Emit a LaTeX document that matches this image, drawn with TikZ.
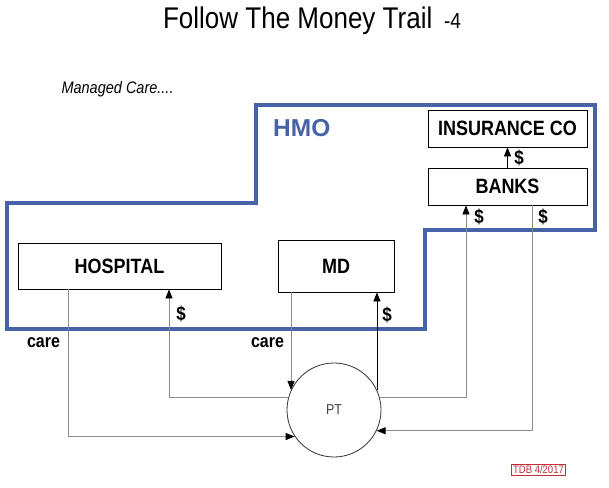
\documentclass[tikz,border=0pt]{standalone}
\usepackage{fontspec}
\setmainfont{Liberation Sans}
\usetikzlibrary{arrows.meta}
\definecolor{hmoblue}{HTML}{4763A8}
\definecolor{flowgray}{HTML}{8C8C8C}
\definecolor{stampred}{HTML}{C0303A}
\newcommand{\tallish}[1]{\scalebox{1}[1.15]{#1}}
\tikzset{partybox/.style={rectangle, draw=black, line width=0.8pt, fill=white, inner sep=0pt, font=\fontsize{18}{20}\selectfont\bfseries}}
\tikzset{ptcircle/.style={circle, draw=black!80, line width=0.8pt, minimum size=94pt, inner sep=0pt, font=\fontsize{12.5}{14}\selectfont, text=black!75}}
\tikzset{careline/.style={draw=flowgray, line width=0.8pt, -{Triangle[length=9pt,width=7pt,color=black]}}}
\tikzset{cashline/.style={careline}}
\tikzset{cashdark/.style={careline, draw=black}}
\tikzset{hmoline/.style={draw=hmoblue, line width=3.5pt, line join=miter}}
\tikzset{flowlabel/.style={font=\fontsize{16}{18}\selectfont\bfseries, inner sep=0pt}}
\tikzset{dollar/.style={font=\fontsize{17}{19}\selectfont\bfseries, inner sep=0pt}}

\begin{document}
\begin{tikzpicture}[x=1pt, y=-1pt]
  \useasboundingbox (0,0) rectangle (609,487);

  % titles
  \node[anchor=base, font=\fontsize{26}{30}\selectfont] (title) at (312,28.5) {\tallish{Follow The Money Trail\hspace{0.45em}{\fontsize{19}{22}\selectfont -4}}};
  \node[anchor=base west, font=\fontsize{14.5}{17}\selectfont\itshape] (managed) at (58,93) {\tallish{Managed Care....}};

  % HMO outline
  \draw[hmoline] (256,105) -- (595,105) -- (595,230) -- (425,230) -- (425,329) -- (7,329) -- (7,203) -- (256,203) -- cycle;
  \node[anchor=base west, font=\fontsize{24.5}{28}\selectfont\bfseries, text=hmoblue, inner sep=0pt] (hmolabel) at (273,136) {HMO};

  % parties
  \node[partybox, minimum width=203pt, minimum height=46pt] (hospital) at (119.5,266) {\tallish{HOSPITAL}};
  \node[partybox, minimum width=116pt, minimum height=52pt] (md) at (336,266) {\tallish{MD}};
  \node[partybox, minimum width=159pt, minimum height=37pt] (insurance) at (507.5,128.5) {\tallish{INSURANCE CO}};
  \node[partybox, minimum width=159pt, minimum height=37pt] (banks) at (507.5,186.5) {\tallish{BANKS}};
  \node[ptcircle] (pt) at (334,410) {\tallish{PT}};

  % care flows
  \draw[careline] ([xshift=-51.5pt]hospital.south) |- (pt.214);
  \draw[careline] (md.south -| pt.155) -- (pt.155);
  \node[flowlabel] (carehos) at (43.5,343) {\tallish{care}};
  \node[flowlabel] (caremd) at (267.5,343) {\tallish{care}};

  % money flows
  \draw[cashline] (pt.164) -| ([xshift=49.5pt]hospital.south);
  \draw[cashdark] (pt.25) -- (pt.25 |- md.south);
  \draw[cashline] (pt.16) -| ([xshift=-41.5pt]banks.south);
  \draw[cashline] ([xshift=24.5pt]banks.south) |- (pt.-26.5);
  \draw[cashdark] (banks.north) -- (insurance.south);
  \node[dollar] (hosdollar) at (181,314) {\tallish{\$}};
  \node[dollar] (mddollar) at (387,315) {\tallish{\$}};
  \node[dollar] (insdollar) at (519,158) {\tallish{\$}};
  \node[dollar] (bankin) at (479,217) {\tallish{\$}};
  \node[dollar] (bankout) at (543,217) {\tallish{\$}};

  % stamp
  \node[draw=stampred, text=stampred, font=\fontsize{9.5}{11}\selectfont, inner sep=1.5pt, line width=0.5pt] (stamp) at (538.5,470) {\tallish{TDB 4/2017}};
\end{tikzpicture}
\end{document}
